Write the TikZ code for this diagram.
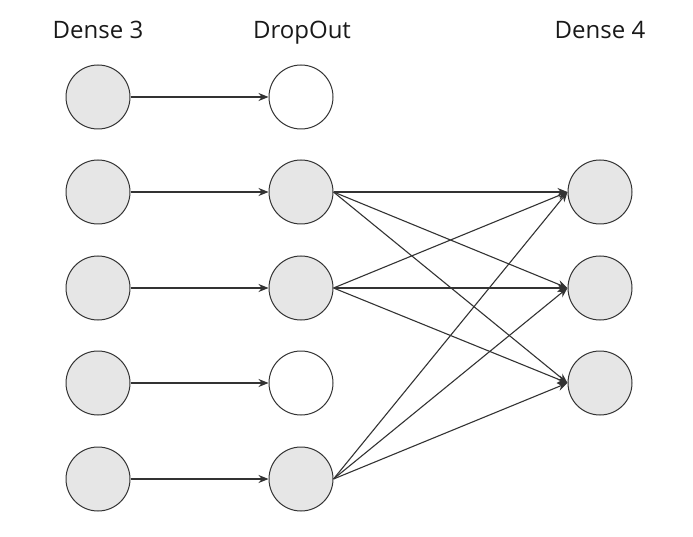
\documentclass[tikz,border=0pt]{standalone}
\usepackage{fontspec}
\setmainfont{Open Sans}
\usetikzlibrary{arrows.meta}
\definecolor{cellgray}{HTML}{E6E6E6}
\definecolor{edgegray}{HTML}{333333}
\def\drawlink{\draw[color=edgegray, line width=1.1pt, -{Stealth[length=10pt,width=8pt]}]}
\def\graynode{\node[circle,draw=edgegray,fill=cellgray,minimum size=64pt,inner sep=0pt,line width=1pt]}
\def\dropnode{\node[circle,draw=edgegray,fill=white,minimum size=64pt,inner sep=0pt,line width=1pt]}
\def\titlenode{\node[anchor=base,font=\fontsize{24}{28}\selectfont,text=black!90]}

\begin{document}
\begin{tikzpicture}[x=1pt,y=-1pt]
\useasboundingbox (0,0) rectangle (693,537);
\titlenode (ta) at (98,39) {Dense 3};
\titlenode (tb) at (302,39) {DropOut};
\titlenode (tc) at (600,39) {Dense 4};
\graynode (a1) at (98,97) {};
\graynode (a2) at (98,192) {};
\graynode (a3) at (98,288) {};
\graynode (a4) at (98,383) {};
\graynode (a5) at (98,479) {};
\dropnode (b1) at (301,97) {};
\graynode (b2) at (301,192) {};
\graynode (b3) at (301,288) {};
\dropnode (b4) at (301,383) {};
\graynode (b5) at (301,479) {};
\graynode (c1) at (600,192) {};
\graynode (c2) at (600,288) {};
\graynode (c3) at (600,383) {};
\drawlink (a1.east) -- (b1.west);
\drawlink (a2.east) -- (b2.west);
\drawlink (a3.east) -- (b3.west);
\drawlink (a4.east) -- (b4.west);
\drawlink (a5.east) -- (b5.west);
\drawlink (b2.east) -- (c1.west);
\drawlink (b2.east) -- (c2.west);
\drawlink (b2.east) -- (c3.west);
\drawlink (b3.east) -- (c1.west);
\drawlink (b3.east) -- (c2.west);
\drawlink (b3.east) -- (c3.west);
\drawlink (b5.east) -- (c1.west);
\drawlink (b5.east) -- (c2.west);
\drawlink (b5.east) -- (c3.west);
\end{tikzpicture}
\end{document}
